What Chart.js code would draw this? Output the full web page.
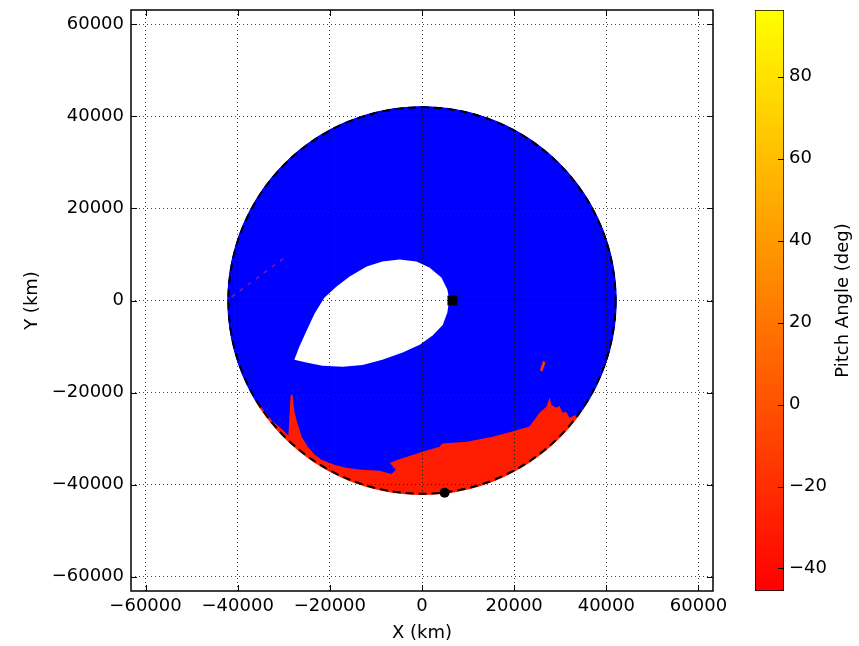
<!DOCTYPE html>
<html lang="en">
<head>
<meta charset="utf-8" />
<title>Pitch angle map</title>
<script src="https://cdn.jsdelivr.net/npm/chart.js@4.4.0/dist/chart.umd.min.js"></script>
<style>
    html, body { margin: 0; padding: 0; background: #fff; }
    #wrap { position: relative; width: 859px; height: 646px; }
    #mainChart { position: absolute; left: 0; top: 0; }
    #barChart { position: absolute; left: 720px; top: 0; }
</style>
</head>
<body>
<div id="wrap">
    <canvas id="mainChart" width="740" height="646"></canvas>
    <canvas id="barChart" width="139" height="646"></canvas>
</div>
<script>
// ticks and ranges
var xTicks = [-60000, -40000, -20000, 0, 20000, 40000, 60000];
var yTicks = [-60000, -40000, -20000, 0, 20000, 40000, 60000];
var cbTicks = [-40, -20, 0, 20, 40, 60, 80];
var axisMin = -63150, axisMax = 63150;
var cbMin = -45.5, cbMax = 96.3;

// radius of the dashed orbit and of the filled disk (km)
var orbitRadius = 42000;
var diskRadius = 42300;

// white gap inside the disk (outline, km)
var holeX = [-27700, -26600, -25100, -23300, -21200, -18600, -15700, -12000, -8600, -4900, -1200, 1600, 4200, 5500, 5900, 5500, 4500, 2300, -500, -4200, -8600, -12900, -17200, -21600, -25100];
var holeY = [-12900, -10000, -6700, -2800, 600, 3000, 5200, 7400, 8500, 8900, 8500, 7200, 5000, 2400, 200, -2600, -5300, -7600, -9600, -11300, -12900, -14000, -14400, -14200, -13500];

// red (negative pitch angle) region near the bottom of the disk, km
var redX = [-37400, -34800, -32600, -30500, -29000, -28500, -28100, -27700, -27000, -26100, -24800, -23300, -21800, -19000, -16200, -13100, -9200, -6600, -5700, -7000, -5300, -3400, 100, 3800, 4400, 9700, 15300, 19600, 23300, 24400, 25500, 27000, 27700, 28100, 29200, 29800, 30500, 31300, 32000, 33100, 35200, 38500, 38500, -37400];
var redY = [-20500, -23300, -26100, -27900, -29400, -20500, -20500, -24200, -26800, -29600, -31800, -33500, -34600, -35700, -36400, -36800, -37000, -37700, -36800, -35300, -34600, -34000, -32900, -31800, -31100, -30700, -29600, -28500, -27400, -25900, -24400, -23100, -21100, -22700, -23300, -22900, -24400, -24200, -25500, -25000, -24800, -28100, -47700, -47700];

// small red blob on the right
var blobX = [26300, 26800, 26100, 25600];
var blobY = [-13100, -13500, -15500, -15100];

// faint streak upper left
var streakX = [-41300, -29200];
var streakY = [800, 9800];

// markers: square, circle
var markerX = [6600, 4900];
var markerY = [0, -41800];

Chart.defaults.font.family = "'DejaVu Sans', sans-serif";
Chart.defaults.font.size = 18;
Chart.defaults.color = '#000';

function fmt(v) {
    return (v < 0 ? '\u2212' : '') + Math.abs(v);
}

function pts(xs, ys) {
    return xs.map(function (x, i) { return { x: x, y: ys[i] }; });
}

function diskPath(chart, r) {
    var xs = chart.scales.x, ys = chart.scales.y;
    var cx = xs.getPixelForValue(0), cy = ys.getPixelForValue(0);
    return { cx: cx, cy: cy, rx: xs.getPixelForValue(r) - cx, ry: cy - ys.getPixelForValue(r) };
}

var diskPlugin = {
    id: 'disk',
    beforeDatasetsDraw: function (chart) {
        var ctx = chart.ctx, d = diskPath(chart, diskRadius);
        ctx.save();
        ctx.fillStyle = '#0000ff';
        ctx.beginPath();
        ctx.ellipse(d.cx, d.cy, d.rx, d.ry, 0, 0, 2 * Math.PI);
        ctx.fill();
        ctx.restore();
    },
    afterDatasetDraw: function (chart, args) {
        var id = chart.data.datasets[args.index].id;
        var ctx = chart.ctx, a = chart.chartArea, d;
        if (id === 'red') {
            // mask anything outside the disk
            d = diskPath(chart, diskRadius);
            ctx.save();
            ctx.beginPath();
            ctx.rect(a.left, a.top, a.right - a.left, a.bottom - a.top);
            ctx.moveTo(d.cx + d.rx, d.cy);
            ctx.ellipse(d.cx, d.cy, d.rx, d.ry, 0, 0, 2 * Math.PI);
            ctx.fillStyle = '#fff';
            ctx.fill('evenodd');
            ctx.restore();
        }
        if (id === 'hole') {
            // dashed orbit
            d = diskPath(chart, orbitRadius);
            ctx.save();
            ctx.strokeStyle = '#000';
            ctx.lineWidth = 2;
            ctx.setLineDash([8, 5]);
            ctx.beginPath();
            ctx.ellipse(d.cx, d.cy, d.rx, d.ry, 0, 0, 2 * Math.PI);
            ctx.stroke();
            ctx.restore();
        }
    },
    afterDraw: function (chart) {
        var ctx = chart.ctx, a = chart.chartArea;
        var xs = chart.scales.x, ys = chart.scales.y;
        ctx.save();
        ctx.strokeStyle = '#000';
        ctx.lineWidth = 1;
        ctx.beginPath();
        xTicks.forEach(function (v) {
            var p = Math.round(xs.getPixelForValue(v)) + 0.5;
            ctx.moveTo(p, a.bottom); ctx.lineTo(p, a.bottom - 6);
            ctx.moveTo(p, a.top); ctx.lineTo(p, a.top + 6);
        });
        yTicks.forEach(function (v) {
            var p = Math.round(ys.getPixelForValue(v)) + 0.5;
            ctx.moveTo(a.left, p); ctx.lineTo(a.left + 6, p);
            ctx.moveTo(a.right, p); ctx.lineTo(a.right - 6, p);
        });
        ctx.stroke();
        ctx.lineWidth = 1.5;
        ctx.strokeRect(a.left, a.top, a.right - a.left, a.bottom - a.top);
        ctx.restore();
    }
};

function region(id, xs, ys, color) {
    return {
        id: id,
        data: pts(xs, ys),
        fill: 'shape',
        backgroundColor: color,
        borderColor: 'rgba(0,0,0,0)',
        borderWidth: 0,
        pointRadius: 0,
        tension: 0
    };
}

var mainChart = new Chart(document.getElementById('mainChart'), {
    type: 'line',
    data: {
        // index 0 is drawn last (on top)
        datasets: [
            { id: 'square', data: pts([markerX[0]], [markerY[0]]), showLine: false, pointStyle: 'rect', pointRadius: 7, backgroundColor: '#000', borderWidth: 0 },
            { id: 'circle', data: pts([markerX[1]], [markerY[1]]), showLine: false, pointStyle: 'circle', pointRadius: 5, backgroundColor: '#000', borderWidth: 0 },
            { id: 'streak', data: pts(streakX, streakY), borderColor: 'rgba(210,40,110,0.6)', borderWidth: 1.5, borderDash: [4, 6], pointRadius: 0, fill: false },
            region('hole', holeX, holeY, '#ffffff'),
            region('blob', blobX, blobY, '#ff3a00'),
            region('red', redX, redY, '#ff1c00')
        ]
    },
    options: {
        responsive: false,
        animation: false,
        events: [],
        layout: { padding: { left: 0, right: 27, top: 10, bottom: 0 } },
        plugins: { legend: { display: false }, tooltip: { enabled: false } },
        scales: {
            x: {
                type: 'linear',
                min: axisMin,
                max: axisMax,
                afterBuildTicks: function (s) { s.ticks = xTicks.map(function (v) { return { value: v }; }); },
                afterFit: function (s) { s.height = 55; s.paddingLeft = 0; s.paddingRight = 0; },
                ticks: { padding: 5, autoSkip: false, maxRotation: 0, callback: fmt },
                grid: { color: 'rgba(0,0,0,0.75)', lineWidth: 1, drawTicks: false, z: 1 },
                border: { display: false, dash: [1, 3] },
                title: { display: true, text: 'X (km)', padding: { top: 0, bottom: 2 } }
            },
            y: {
                type: 'linear',
                min: axisMin,
                max: axisMax,
                afterBuildTicks: function (s) { s.ticks = yTicks.map(function (v) { return { value: v }; }); },
                afterFit: function (s) { s.width = 131; s.paddingTop = 0; s.paddingBottom = 0; },
                ticks: { padding: 7, autoSkip: false, callback: fmt },
                grid: { color: 'rgba(0,0,0,0.75)', lineWidth: 1, drawTicks: false, z: 1 },
                border: { display: false, dash: [1, 3] },
                title: { display: true, text: 'Y (km)', padding: { top: 22, bottom: 0 } }
            }
        }
    },
    plugins: [diskPlugin]
});

var barPlugin = {
    id: 'colorbar',
    afterDraw: function (chart) {
        var ctx = chart.ctx, a = chart.chartArea, s = chart.scales.y;
        ctx.save();
        ctx.strokeStyle = '#000';
        ctx.lineWidth = 1;
        ctx.beginPath();
        cbTicks.forEach(function (v) {
            var p = Math.round(s.getPixelForValue(v)) + 0.5;
            ctx.moveTo(a.right, p); ctx.lineTo(a.right - 6, p);
        });
        ctx.stroke();
        ctx.translate(123, (a.top + a.bottom) / 2);
        ctx.rotate(-Math.PI / 2);
        ctx.fillStyle = '#000';
        ctx.font = "18px 'DejaVu Sans', sans-serif";
        ctx.textAlign = 'center';
        ctx.textBaseline = 'middle';
        ctx.fillText('Pitch Angle (deg)', 0, 0);
        ctx.restore();
    }
};

var barChart = new Chart(document.getElementById('barChart'), {
    type: 'bar',
    data: {
        labels: [''],
        datasets: [{
            data: [[cbMin, cbMax]],
            backgroundColor: function (c) {
                var a = c.chart.chartArea;
                if (!a) return '#ff0000';
                var g = c.chart.ctx.createLinearGradient(0, a.bottom, 0, a.top);
                g.addColorStop(0, '#ff0000');
                g.addColorStop(1, '#ffff00');
                return g;
            },
            borderColor: '#000',
            borderWidth: 1,
            borderSkipped: false,
            barPercentage: 1,
            categoryPercentage: 1
        }]
    },
    options: {
        responsive: false,
        animation: false,
        events: [],
        layout: { padding: { left: 35, right: 0, top: 10, bottom: 55 } },
        plugins: { legend: { display: false }, tooltip: { enabled: false } },
        scales: {
            x: { display: false },
            y: {
                position: 'right',
                min: cbMin,
                max: cbMax,
                afterBuildTicks: function (s) { s.ticks = cbTicks.map(function (v) { return { value: v }; }); },
                afterFit: function (s) { s.width = 75; s.paddingTop = 0; s.paddingBottom = 0; },
                ticks: { padding: 5, autoSkip: false, callback: fmt },
                grid: { display: false, drawTicks: false },
                border: { display: false }
            }
        }
    },
    plugins: [barPlugin]
});
</script>
</body>
</html>
